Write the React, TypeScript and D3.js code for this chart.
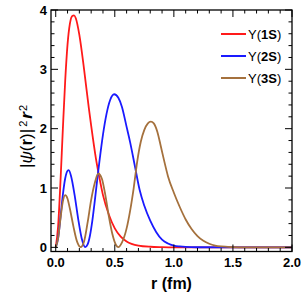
import React from "react";
import * as d3 from "d3";

const r1S = [0, 0.02, 0.04, 0.06, 0.08, 0.10, 0.12, 0.14, 0.155, 0.17, 0.20, 0.24, 0.28, 0.30, 0.34, 0.37, 0.40, 0.45, 0.50, 0.55, 0.60, 0.70, 0.80, 0.90, 1.0, 1.5, 2.0];
const v1S = [0, 0.35, 1.1, 1.98, 2.8, 3.42, 3.77, 3.90, 3.91, 3.86, 3.58, 3.0, 2.35, 2.05, 1.5, 1.17, 0.88, 0.55, 0.32, 0.18, 0.10, 0.03, 0.01, 0.004, 0.001, 0, 0];

const r2S = [0, 0.02, 0.04, 0.06, 0.08, 0.10, 0.11, 0.13, 0.16, 0.19, 0.22, 0.25, 0.27, 0.29, 0.31, 0.33, 0.35, 0.37, 0.40, 0.43, 0.46, 0.495, 0.53, 0.56, 0.60, 0.63, 0.67, 0.71, 0.75, 0.80, 0.85, 0.90, 0.95, 1.00, 1.05, 1.10, 1.20, 1.5, 2.0];
const v2S = [0, 0.15, 0.5, 0.88, 1.16, 1.29, 1.30, 1.20, 0.88, 0.48, 0.15, 0.005, 0.05, 0.2, 0.45, 0.77, 1.12, 1.45, 1.9, 2.25, 2.48, 2.58, 2.52, 2.37, 2.03, 1.77, 1.37, 0.97, 0.70, 0.45, 0.26, 0.13, 0.065, 0.03, 0.015, 0.007, 0.002, 0, 0];

const r3S = [0, 0.02, 0.04, 0.06, 0.08, 0.10, 0.12, 0.15, 0.18, 0.21, 0.24, 0.27, 0.30, 0.33, 0.36, 0.39, 0.42, 0.45, 0.48, 0.51, 0.53, 0.56, 0.60, 0.63, 0.66, 0.69, 0.72, 0.75, 0.78, 0.805, 0.83, 0.86, 0.89, 0.92, 0.95, 1.00, 1.05, 1.10, 1.15, 1.20, 1.25, 1.30, 1.35, 1.40, 1.50, 1.60, 2.0];
const v3S = [0, 0.15, 0.48, 0.77, 0.88, 0.82, 0.65, 0.35, 0.1, 0.005, 0.1, 0.42, 0.8, 1.08, 1.24, 1.16, 0.88, 0.52, 0.22, 0.04, 0.005, 0.08, 0.32, 0.62, 1.0, 1.45, 1.78, 1.98, 2.09, 2.12, 2.09, 1.95, 1.70, 1.44, 1.20, 0.92, 0.68, 0.47, 0.31, 0.19, 0.11, 0.06, 0.03, 0.015, 0.004, 0, 0];

const seriesNames = ["1S", "2S", "3S"];
const seriesColors = ["#ff1a1a", "#1a1aff", "#a5713d"];
const seriesR = [r1S, r2S, r3S];
const seriesV = [v1S, v2S, v3S];

const xMajor = [0, 0.5, 1.0, 1.5, 2.0];
const yMajor = [0, 1, 2, 3, 4];

export default function App() {
  const W = 303, H = 303;
  const left = 51, right = 292, top = 10, bottom = 251.5;
  const x = d3.scaleLinear().domain([-0.04, 2.0]).range([left, right]);
  const y = d3.scaleLinear().domain([-0.07, 4.0]).range([bottom, top]);
  const line = d3
    .line<[number, number]>()
    .x((d) => x(d[0]))
    .y((d) => y(d[1]))
    .curve(d3.curveMonotoneX);

  const xMinor = d3.range(0, 2.0001, 0.1).filter((v) => Math.abs(v / 0.5 - Math.round(v / 0.5)) > 1e-6);
  const yMinor = d3.range(0, 4.0001, 0.2).filter((v) => Math.abs(v - Math.round(v)) > 1e-6);
  const maj = 7, mnr = 3.5;
  const font = "'Liberation Sans', Arial, sans-serif";

  return (
    <svg width={W} height={H} style={{ position: "absolute", left: 0, top: 0 }} fontFamily={font}>
      <rect x={0} y={0} width={W} height={H} fill="#fff" />
      <defs>
        <clipPath id="plot">
          <rect x={left} y={top} width={right - left} height={bottom - top} />
        </clipPath>
      </defs>
      <g clipPath="url(#plot)">
        {seriesR.map((rs, i) => (
          <path
            key={i}
            d={line(rs.map((r, j) => [r, seriesV[i][j]] as [number, number])) || ""}
            fill="none"
            stroke={seriesColors[i]}
            strokeWidth={1.8}
          />
        ))}
      </g>
      <g stroke="#000" strokeWidth={1}>
        {xMajor.map((v) => (
          <g key={"xm" + v}>
            <line x1={x(v)} x2={x(v)} y1={bottom} y2={bottom - maj} />
            <line x1={x(v)} x2={x(v)} y1={top} y2={top + maj} />
          </g>
        ))}
        {xMinor.map((v) => (
          <g key={"xn" + v}>
            <line x1={x(v)} x2={x(v)} y1={bottom} y2={bottom - mnr} />
            <line x1={x(v)} x2={x(v)} y1={top} y2={top + mnr} />
          </g>
        ))}
        {yMajor.map((v) => (
          <g key={"ym" + v}>
            <line x1={left} x2={left + maj} y1={y(v)} y2={y(v)} />
            <line x1={right} x2={right - maj} y1={y(v)} y2={y(v)} />
          </g>
        ))}
        {yMinor.map((v) => (
          <g key={"yn" + v}>
            <line x1={left} x2={left + mnr} y1={y(v)} y2={y(v)} />
            <line x1={right} x2={right - mnr} y1={y(v)} y2={y(v)} />
          </g>
        ))}
      </g>
      <rect x={left} y={top} width={right - left} height={bottom - top} fill="none" stroke="#000" strokeWidth={1.3} />
      <g fontSize={13} fontWeight="bold" fill="#000">
        {xMajor.map((v) => (
          <text key={"xl" + v} x={x(v)} y={267} textAnchor="middle">
            {v.toFixed(1)}
          </text>
        ))}
        {yMajor.map((v) => (
          <text key={"yl" + v} x={47} y={y(v) + 4.5} textAnchor="end">
            {v}
          </text>
        ))}
      </g>
      <text x={(left + right) / 2} y={289} textAnchor="middle" fontSize={16} fontWeight="bold">
        r (fm)
      </text>
      <text transform="translate(32,136.5) rotate(-90)" textAnchor="middle" fontSize={17}>
        <tspan>|</tspan>
        <tspan fontStyle="italic">ψ</tspan>
        <tspan>(</tspan>
        <tspan fontWeight="bold">r</tspan>
        <tspan>)|</tspan>
        <tspan fontSize={11} dy={-5} dx={2}>2</tspan>
        <tspan fontWeight="bold" fontStyle="italic" dy={5} dx={2}>r</tspan>
        <tspan fontSize={11} dy={-5} dx={1}>2</tspan>
      </text>
      {seriesNames.map((n, i) => {
        const ly = 34 + i * 22;
        return (
          <g key={n}>
            <line x1={221} x2={246} y1={ly} y2={ly} stroke={seriesColors[i]} strokeWidth={2} />
            <text x={248} y={ly + 4.5} fontSize={13}>
              <tspan>Υ(</tspan>
              <tspan fontWeight="bold">{n}</tspan>
              <tspan>)</tspan>
            </text>
          </g>
        );
      })}
    </svg>
  );
}
